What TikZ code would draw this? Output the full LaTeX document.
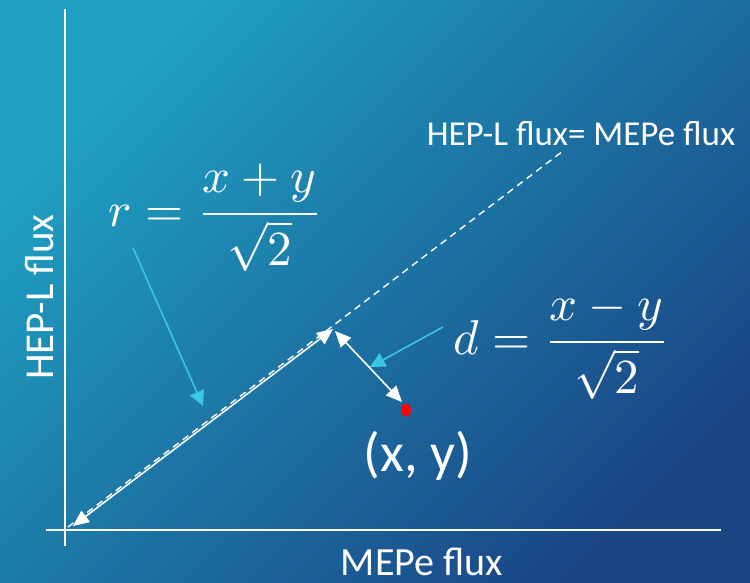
\documentclass[tikz,border=0pt]{standalone}
\usepackage{fontspec}
\setmainfont{Carlito}
\usepackage{graphicx}
\usetikzlibrary{arrows.meta}
\definecolor{bgA}{HTML}{1FA0C2}
\definecolor{bgB}{HTML}{1A4686}
\definecolor{cyanarr}{HTML}{3CC6E0}
\tikzset{
  axisline/.style={draw=white, line width=1.6pt},
  whitearr/.style={draw=white, line width=1.6pt, {Triangle[length=16pt,width=14pt]}-{Triangle[length=16pt,width=14pt]}},
  cyanptr/.style={draw=cyanarr, line width=1.6pt, -{Triangle[length=15pt,width=15pt]}},
  lbl/.style={text=white, inner sep=0pt},
}
\begin{document}
\begin{tikzpicture}[x=1pt,y=-1pt]
\useasboundingbox (0,0) rectangle (750,583);
\shade[top color=bgA, bottom color=bgB, shading angle=45] (0,0) rectangle (750,583);
% axes
\coordinate (ytop) at (65,9);
\coordinate (ybot) at (65,546);
\coordinate (xl) at (46,530);
\coordinate (xr) at (721,530);
\draw[axisline] (ybot) -- (ytop);
\draw[axisline] (xl) -- (xr);
% diagonal
\coordinate (dstart) at (68,527);
\coordinate (dend) at (563,151);
\draw[draw=white, line width=1.4pt, dash pattern=on 7pt off 5pt] (dstart) -- (dend);
% r arrow
\coordinate (O) at (73,526);
\coordinate (F) at (333,329);
\draw[whitearr] (O) -- (F);
% d arrow
\coordinate (F2) at (335,331);
\coordinate (Q) at (402,402);
\draw[whitearr] (F2) -- (Q);
\fill[red] (406,410) ellipse [x radius=5pt, y radius=6.5pt];
% labels
\node[lbl, font=\fontsize{35}{40}\selectfont, anchor=base] (eq) at (581,146) {HEP-L flux= MEPe flux};
\node[lbl, font=\fontsize{41}{46}\selectfont, rotate=90, anchor=base] (ylab) at (53,297) {HEP-L flux};
\node[lbl, font=\fontsize{40}{46}\selectfont, anchor=base] (xlab) at (422,575) {MEPe flux};
\node[lbl, font=\fontsize{55}{60}\selectfont, anchor=base] (pt) at (418,471) {(x, y)};
\node[lbl, anchor=base west] (rf) at (108,226) {\scalebox{4.9}{$\displaystyle r=\frac{x+y}{\sqrt{2}}$}};
\node[lbl, anchor=base west] (df) at (453,354) {\scalebox{4.9}{$\displaystyle d=\frac{x-y}{\sqrt{2}}$}};
% pointers
\coordinate (rs) at (133,248);
\coordinate (rt) at (203,406);
\draw[cyanptr] (rs) -- (rt);
\coordinate (ds) at (443,327);
\coordinate (dt) at (370,367);
\draw[cyanptr] (ds) -- (dt);
\end{tikzpicture}
\end{document}
